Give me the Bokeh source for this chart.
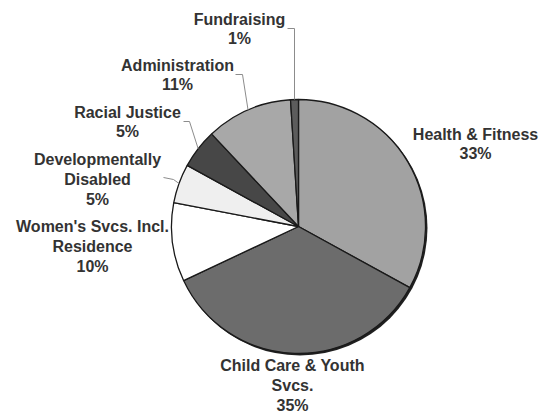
import math
from bokeh.plotting import figure
from bokeh.models import Range1d, ColumnDataSource
from bokeh.core.properties import value
from bokeh.embed import file_html
from bokeh.resources import INLINE

# Data (clockwise from 12 o'clock)
categories = ["Health & Fitness", "Child Care & Youth\nSvcs.", "Women's Svcs. Incl.\nResidence",
              "Developmentally\nDisabled", "Racial Justice", "Administration", "Fundraising"]
percents = [33, 35, 10, 5, 5, 11, 1]
colors = ["#a2a2a2", "#6c6c6c", "#ffffff", "#efefef", "#474747", "#a8a8a8", "#5c5c5c"]

# Layout (picture pixel coords)
W, H = 548, 415
CX, CY, R = 298, 226, 127
label_pos = [(475, 143.5), (292, 385), (92, 246), (97, 179), (127, 121.5), (177, 74.5), (239, 28.5)]
# leader elbows: (text end point, elbow point) or None
leaders = [None, None, None,
           [(163, 177), (173, 179)],
           [(183, 121), (189, 121)],
           [(235, 74), (242, 74)],
           [(287, 28), (294, 28)]]

def py(y):  # picture y -> data y
    return H - y

p = figure(width=W, height=H, output_backend="svg", toolbar_location=None,
           x_range=Range1d(0, W), y_range=Range1d(0, H),
           min_border=0)
p.axis.visible = False
p.grid.visible = False
p.outline_line_color = None
p.background_fill_color = "white"

total = sum(percents)
starts, ends, mids = [], [], []
acc = 0.0
for v in percents:
    t1 = acc / total * 360.0
    acc += v
    t2 = acc / total * 360.0
    starts.append(math.radians(90 - t2))
    ends.append(math.radians(90 - t1))
    mids.append((t1 + t2) / 2)

# shadow
p.circle(x=[CX + 1.5], y=[py(CY) - 1.5], radius=R + 0.5, fill_color="#202020", line_color=None)

src = ColumnDataSource(dict(start=starts, end=ends, color=colors))
p.wedge(x=CX, y=py(CY), radius=R, start_angle="start", end_angle="end",
        fill_color="color", line_color="#1a1a1a", line_width=1.3, source=src)

# leader lines
for i, ld in enumerate(leaders):
    if ld is None:
        continue
    th = math.radians(mids[i])
    ex = CX + R * math.sin(th)
    ey = CY - R * math.cos(th)
    xs = [ld[0][0], ld[1][0], ex]
    ys = [py(ld[0][1]), py(ld[1][1]), py(ey)]
    p.line(xs, ys, line_color="#8c8c8c", line_width=1)

texts = [f"{c}\n{v}%" for c, v in zip(categories, percents)]
lsrc = ColumnDataSource(dict(x=[q[0] for q in label_pos], y=[py(q[1]) for q in label_pos], t=texts))
p.text(x="x", y="y", text="t", source=lsrc, text_align="center", text_baseline="middle",
       text_font=value("Liberation Sans"), text_font_style="bold", text_font_size="16px",
       text_color="#333333", text_line_height=1.16)

open("out.html", "w").write(file_html(p, INLINE))
